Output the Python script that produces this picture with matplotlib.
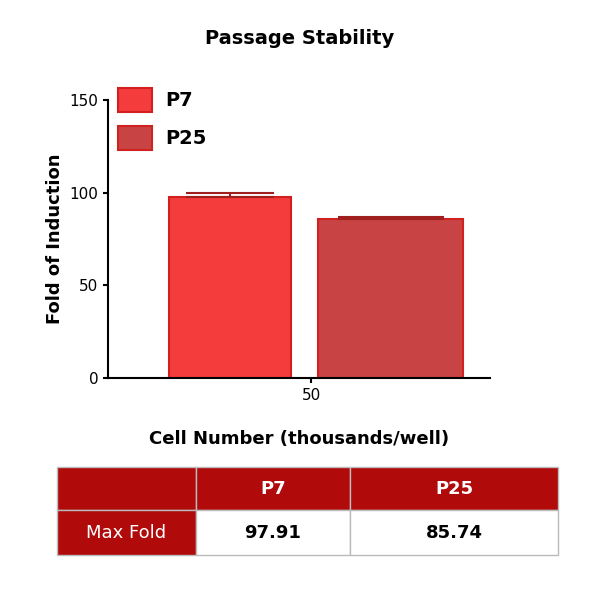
import matplotlib
matplotlib.use("Agg")
import matplotlib.pyplot as plt
from matplotlib.patches import Rectangle

series = ["P7", "P25"]
values = [97.91, 85.74]
errors = [2.0, 1.0]
colors = ["#f43c3c", "#c84444"]
x_label = "50"
table_row = "Max Fold"

fig = plt.figure(figsize=(6, 6), dpi=100)
W, H = 600, 600
def fx(px): return px / W
def fy(py): return 1 - py / H

ax = fig.add_axes([fx(108), fy(378), fx(490) - fx(108), fy(100) - fy(378)])
pos = [0.5, 1.55]
widths = [0.8, 0.95]
for p, v, e, c, w in zip(pos, values, errors, colors, widths):
    ax.bar(p, v, width=w, color=c, edgecolor="#d02020", linewidth=1.5)
    ax.errorbar(p, v, yerr=[[0], [e]], color="#a02020", capsize=w * 40, elinewidth=1.5, capthick=1.5)
ax.set_xlim(-0.3, 2.2)
ax.set_ylim(0, 150)
ax.set_yticks([0, 50, 100, 150])
ax.set_xticks([1.03])
ax.set_xticklabels([x_label])
for s in ["top", "right"]:
    ax.spines[s].set_visible(False)
for s in ["left", "bottom"]:
    ax.spines[s].set_linewidth(1.5)
ax.tick_params(labelsize=11, width=1.5)
ax.set_ylabel("Fold of Induction", fontsize=13, fontweight="bold")
ax.set_xlabel("Cell Number (thousands/well)", fontsize=13, fontweight="bold", labelpad=20)
fig.text(0.5, fy(38), "Passage Stability", ha="center", va="center", fontsize=14, fontweight="bold")

# legend
for i, (s, c) in enumerate(zip(series, colors)):
    y = 100 + i * 38
    fig.patches.append(Rectangle((fx(118), fy(y + 12)), fx(34), fy(0) - fy(24), transform=fig.transFigure,
                                 facecolor=c, edgecolor="#d02020", lw=1.5))
    fig.text(fx(165), fy(y), s, fontsize=14, fontweight="bold", va="center")

# table
cols = [57, 196, 350, 558]
rows = [467, 510, 555]
dark = "#b00a0a"
tab = [["", series[0], series[1]], [table_row, f"{values[0]:.2f}", f"{values[1]:.2f}"]]
for r in range(2):
    for c in range(3):
        x0, x1 = cols[c], cols[c + 1]
        y0, y1 = rows[r], rows[r + 1]
        isdark = r == 0 or c == 0
        fig.patches.append(Rectangle((fx(x0), fy(y1)), fx(x1 - x0), fy(0) - fy(y1 - y0), transform=fig.transFigure,
                                     facecolor=dark if isdark else "white", edgecolor="#bbbbbb", lw=1))
        fig.text(fx((x0 + x1) / 2), fy((y0 + y1) / 2), tab[r][c], ha="center", va="center", fontsize=13,
                 fontweight="bold" if (r == 1 and c > 0) or r == 0 else "normal",
                 color="white" if isdark else "black")

fig.savefig("out.png", dpi=100)
